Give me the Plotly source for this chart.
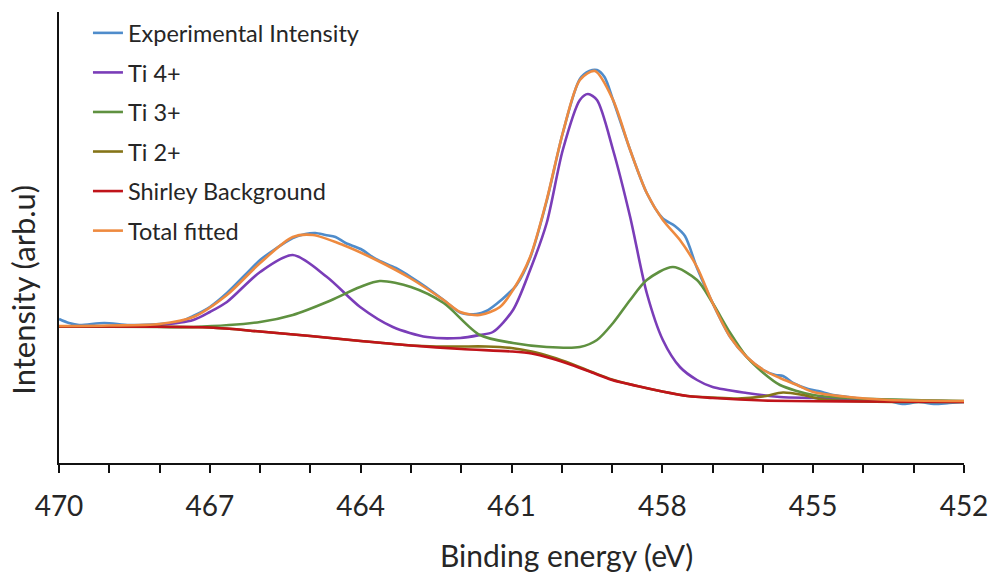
import plotly.graph_objects as go

# Ti 2p XPS spectrum with peak fitting (binding energy in eV, intensity in arb. units)

exp_energy = [470.0, 469.8, 469.6, 469.1, 468.6, 468.0, 467.6, 467.33, 467.0, 466.66, 466.3, 466.0,
              465.7, 465.35, 465.1, 464.9, 464.7, 464.5, 464.3, 464.0, 463.7, 463.3, 463.0, 462.7,
              462.35, 462.0, 461.7, 461.5, 461.3, 461.05, 460.9, 460.63, 460.3, 459.98, 459.64,
              459.45, 459.3, 459.15, 458.98, 458.64, 458.31, 458.0, 457.75, 457.55, 457.31, 457.0,
              456.65, 456.32, 455.99, 455.75, 455.6, 455.4, 455.1, 454.9, 454.6, 454.3, 453.9,
              453.5, 453.2, 452.9, 452.6, 452.3, 452.0]
exp_intensity = [144, 140, 138, 140, 138, 139, 141, 147, 156, 170, 188, 203,
                 214, 225, 229, 230, 228, 226, 220, 214, 204, 195, 186, 176,
                 163, 150, 149, 152, 159, 170, 178, 205, 262, 330, 384,
                 392, 393, 386, 363, 313, 270, 245, 237, 227, 195, 160,
                 126, 106, 93, 88, 87, 80, 74, 72, 68, 66, 63,
                 62, 59, 61, 59, 60, 61]

ti4_energy = [470.0, 469.0, 468.5, 468.0, 467.33, 467.0, 466.66, 466.0, 465.35, 464.67, 464.01,
              463.36, 462.68, 462.02, 461.63, 461.37, 460.97, 460.63, 460.3, 459.98, 459.64,
              459.48, 459.3, 458.98, 458.64, 458.31, 457.99, 457.65, 457.31, 457.0, 456.32,
              455.66, 455.0, 453.67, 452.0]
ti4_intensity = [136.5, 136.5, 137, 138, 143, 151, 161, 191, 208, 186, 156,
                 136, 126, 125, 128, 131, 153, 193, 240, 313, 363,
                 369, 363, 313, 246, 170, 123, 96, 83, 76, 70,
                 66, 65, 63, 61.5]

ti3_energy = [470.0, 468.0, 467.33, 466.0, 465.35, 464.67, 464.01, 463.62, 463.0, 462.35,
              461.63, 460.97, 460.3, 459.64, 459.3, 458.98, 458.64, 458.31, 457.79, 457.31,
              457.0, 456.65, 456.32, 455.99, 455.66, 455.0, 454.3, 452.0]
ti3_intensity = [136.5, 136, 136, 141, 148, 161, 176, 182, 176, 160,
                 128, 120, 116, 116, 123, 140, 163, 183, 196, 183,
                 160, 130, 106, 90, 78, 68, 65, 62]

ti2_energy = [470.0, 467.0, 466.0, 465.0, 464.0, 463.0, 462.5, 462.0, 461.5, 461.0, 460.6,
              460.2, 459.8, 459.4, 459.0, 458.5, 458.0, 457.5, 457.0, 456.5, 456.0, 455.6, 455.2,
              454.8, 454.0, 452.0]
ti2_intensity = [136.5, 135.5, 131.5, 127, 122, 117.5, 116.5, 116.5, 116.5, 115, 111.5,
                 106, 99, 91, 83.5, 77, 71.5, 67, 65.5, 64.5, 66.5, 70.5, 68,
                 63.5, 61.5, 61]

bg_energy = [470.0, 467.0, 466.0, 465.0, 464.0, 463.0, 462.0, 461.0, 460.6, 460.2, 459.8,
             459.4, 459.0, 458.5, 458.0, 457.5, 457.0, 456.0, 454.0, 452.0]
bg_intensity = [136.5, 135.5, 131.5, 127, 122, 117.5, 114, 111.5, 109.5, 104.5, 98,
                90.5, 83, 77, 71.5, 67, 65, 62.5, 61.5, 61]

fit_energy = [470.0, 469.0, 468.0, 467.33, 466.66, 466.0, 465.35, 464.95, 464.35, 463.69,
              463.02, 462.35, 462.02, 461.63, 461.23, 460.97, 460.63, 460.3, 459.98, 459.64,
              459.34, 458.98, 458.64, 458.31, 457.99, 457.65, 457.31, 457.0, 456.65, 456.32,
              455.99, 455.66, 455.32, 455.0, 454.3, 453.5, 452.0]
fit_intensity = [137, 137.5, 139, 146, 168, 200, 226, 228, 218, 203,
                 185, 163, 151, 148, 156, 173, 206, 263, 330, 383,
                 392, 363, 313, 270, 243, 223, 196, 160, 126, 106,
                 93, 85, 78, 71, 66, 63, 62]

series = [
    ("Experimental Intensity", exp_energy, exp_intensity, "#4F8CCB"),
    ("Ti 4+", ti4_energy, ti4_intensity, "#7A3DB8"),
    ("Ti 3+", ti3_energy, ti3_intensity, "#5F9140"),
    ("Ti 2+", ti2_energy, ti2_intensity, "#857418"),
    ("Shirley Background", bg_energy, bg_intensity, "#C0141A"),
    ("Total fitted", fit_energy, fit_intensity, "#EE8A3F"),
]

x_ticks = [470, 467, 464, 461, 458, 455, 452]
x_tick_labels = ["470", "467", "464", "461", "458", "455", "452"]

FONT = "Lato"
TEXT = "#262626"

fig = go.Figure()
for i, (name, xs, ys, color) in enumerate(series):
    fig.add_trace(go.Scatter(
        x=xs, y=ys, name=name, mode="lines",
        line=dict(color=color, width=2.6, shape="spline", smoothing=0.8),
        legendgroup=f"g{i}",
    ))

fig.update_layout(
    width=994, height=572,
    margin=dict(l=59, r=30, t=12, b=109, autoexpand=False),
    paper_bgcolor="white", plot_bgcolor="white",
    font=dict(family=FONT, color=TEXT),
    showlegend=True,
    legend=dict(
        x=0.032, y=1.002, xanchor="left", yanchor="top",
        font=dict(family=FONT, size=23.5, color=TEXT),
        bgcolor="rgba(0,0,0,0)", borderwidth=0,
        tracegroupgap=6, itemwidth=30,
    ),
    xaxis=dict(
        range=[470, 452], showgrid=False, zeroline=False, automargin=False,
        showline=True, linecolor="#111111", linewidth=2,
        tickvals=x_ticks, ticktext=x_tick_labels,
        ticks="outside", ticklen=8, tickwidth=2, tickcolor="#111111",
        tickfont=dict(family=FONT, size=28, color=TEXT),
        ticklabelstandoff=9,
        minor=dict(dtick=1, tick0=452, ticks="outside", ticklen=8, tickwidth=2, tickcolor="#111111"),
    ),
    yaxis=dict(
        range=[0, 451], showgrid=False, zeroline=False, automargin=False,
        showline=True, linecolor="#111111", linewidth=2,
        showticklabels=False, ticks="",
    ),
    annotations=[
        dict(text="Binding energy (eV)", xref="paper", yref="paper",
             x=0.561, y=-0.204, xanchor="center", yanchor="middle", showarrow=False,
             font=dict(family=FONT, size=30, color=TEXT)),
        dict(text="Intensity (arb.u)", xref="paper", yref="paper",
             x=-0.040, y=0.3836, xanchor="center", yanchor="middle", showarrow=False,
             textangle=-90, font=dict(family=FONT, size=31, color=TEXT)),
    ],
)

fig.write_html("out.html")
